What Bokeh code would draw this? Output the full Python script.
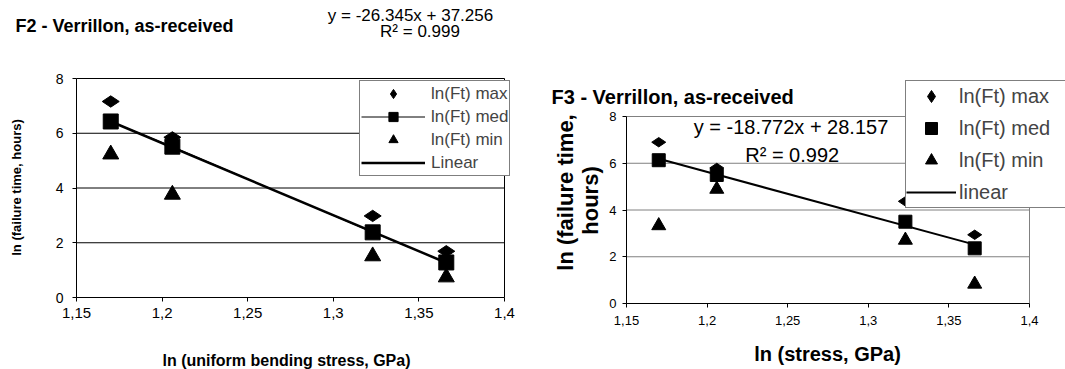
import math
from bokeh.plotting import figure
from bokeh.models import Range1d, FixedTicker, Label, Legend, LegendItem
from bokeh.layouts import row
from bokeh.embed import file_html
from bokeh.resources import INLINE

# ---------------- data ----------------
x_stress = [1.170, 1.206, 1.323, 1.366]
x_ticks = [1.15, 1.2, 1.25, 1.3, 1.35, 1.4]
x_tick_labels = ["1,15", "1,2", "1,25", "1,3", "1,35", "1,4"]
y_ticks = [0, 2, 4, 6, 8]

f2_max = [7.16, 5.85, 2.98, 1.69]
f2_med = [6.43, 5.51, 2.38, 1.28]
f2_min = [5.23, 3.76, 1.51, 0.74]
f2_fit_x = [1.170, 1.366]
f2_fit_y = [6.43, 1.27]
f2_title = "F2 - Verrillon, as-received"
f2_eq = "y = -26.345x + 37.256"
f2_r2 = "R² = 0.999"
f2_xlabel = "ln (uniform bending stress, GPa)"
f2_ylabel = "ln (failure time, hours)"

f3_max = [6.90, 5.80, 4.37, 2.94]
f3_med = [6.13, 5.50, 3.50, 2.36]
f3_min = [3.33, 4.89, 2.71, 0.83]
f3_fit_x = [1.170, 1.366]
f3_fit_y = [6.19, 2.52]
f3_title = "F3 - Verrillon, as-received"
f3_eq = "y = -18.772x + 28.157"
f3_r2 = "R² = 0.992"
f3_xlabel = "ln (stress, GPa)"
f3_ylabel = ["ln (failure time,", "hours)"]

series_names = ["ln(Ft) max", "ln(Ft) med", "ln(Ft) min"]

FONT = "Liberation Sans"


class Chart:
    """A figure whose frame fills the canvas; the axes are fixed inside it so that
    texts and legends placed around the plot area are not clipped."""

    def __init__(self, width, height, px_x0, px_x1, py_y0, py_y8, offset,
                 grid_color, xfs, yfs, xstand, ystand):
        self.off = offset
        xs = (x_ticks[-1] - x_ticks[0]) / (px_x1 - px_x0)
        ys = (y_ticks[-1] - y_ticks[0]) / (py_y0 - py_y8)
        x_start = x_ticks[0] - (px_x0 - offset) * xs
        y_end = y_ticks[0] + py_y0 * ys
        self.xs, self.ys, self.x_start, self.y_end = xs, ys, x_start, y_end
        p = figure(width=width, height=height, output_backend="svg",
                   toolbar_location=None,
                   x_range=Range1d(x_start, x_start + width * xs),
                   y_range=Range1d(y_end - height * ys, y_end),
                   min_border=0, min_border_left=0, min_border_right=0,
                   min_border_top=0, min_border_bottom=0)
        if "frame_align" in p.properties():
            p.frame_align = False
        p.background_fill_color = "white"
        p.border_fill_color = "white"
        p.outline_line_color = None
        p.xgrid.visible = False
        p.ygrid.visible = False

        # plot-area grid lines and right border, built from the tick lists
        p.segment(x0=x_ticks[0], x1=x_ticks[-1], y0=y_ticks[1:], y1=y_ticks[1:],
                  line_color=grid_color, line_width=1)
        p.segment(x0=x_ticks[-1], x1=x_ticks[-1], y0=y_ticks[0], y1=y_ticks[-1],
                  line_color=grid_color, line_width=1)

        p.xaxis.ticker = FixedTicker(ticks=x_ticks)
        p.xaxis.major_label_overrides = {t: s for t, s in zip(x_ticks, x_tick_labels)}
        p.yaxis.ticker = FixedTicker(ticks=y_ticks)
        p.xaxis.fixed_location = y_ticks[0]
        p.yaxis.fixed_location = x_ticks[0]
        p.xaxis.bounds = (x_ticks[0], x_ticks[-1])
        p.yaxis.bounds = (y_ticks[0], y_ticks[-1])
        for ax, fs, st in ((p.xaxis, xfs, xstand), (p.yaxis, yfs, ystand)):
            ax.axis_line_color = "black"
            ax.major_tick_line_color = "black"
            ax.minor_tick_line_color = None
            ax.major_tick_out = 4
            ax.major_tick_in = 0
            ax.major_label_text_font = FONT
            ax.major_label_text_font_size = fs
            ax.major_label_text_color = "black"
            ax.major_label_standoff = st
        self.p = p

    def X(self, px):
        return self.x_start + (px - self.off) * self.xs

    def Y(self, py):
        return self.y_end - py * self.ys

    def label(self, text, px, py, size, bold=False, align="left", angle=0.0):
        self.p.add_layout(Label(x=self.X(px), y=self.Y(py), text=text, text_font=FONT,
                                text_font_size=f"{size}px",
                                text_font_style="bold" if bold else "normal",
                                text_align=align, text_baseline="middle", angle=angle,
                                text_color="black"))


# ---------------- left chart (F2) ----------------
c1 = Chart(540, 369, 76, 504, 297, 78, 0, "black", "15px", "14px", 6, 9)
p1 = c1.p

r1_max = p1.scatter(x_stress, f2_max, marker="diamond", angle=math.pi / 2, size=17,
                    color="black")
r1_medline = p1.line(x_stress, f2_med, line_color="black", line_width=1)
r1_med = p1.scatter(x_stress, f2_med, marker="square", size=15, color="black")
r1_min = p1.scatter(x_stress, f2_min, marker="triangle", size=16, color="black")
r1_fit = p1.line(f2_fit_x, f2_fit_y, line_color="black", line_width=2.5)

leg1 = Legend(items=[
    LegendItem(label=series_names[0], renderers=[r1_max]),
    LegendItem(label=series_names[1], renderers=[r1_medline, r1_med]),
    LegendItem(label=series_names[2], renderers=[r1_min]),
    LegendItem(label="Linear", renderers=[r1_fit]),
], location=(359, 369 - 176), glyph_width=64, glyph_height=23, spacing=0, padding=1,
    margin=0, label_standoff=6, label_text_font=FONT, label_text_font_size="17px",
    label_height=23, border_line_color="black", border_line_width=1,
    background_fill_color="white", background_fill_alpha=1.0)
p1.add_layout(leg1)

c1.label(f2_title, 15, 25.7, 18, bold=True)
c1.label(f2_eq, 410, 15, 17, align="center")
c1.label(f2_r2, 419.5, 31, 17, align="center")
c1.label(f2_ylabel, 16, 187, 13, bold=True, align="center", angle=math.pi / 2)
c1.label(f2_xlabel, 286, 360, 16, bold=True, align="center")

# ---------------- right chart (F3) ----------------
c2 = Chart(525, 369, 626, 1029, 303, 116, 540, "#808080", "13px", "13px", 8, 6)
p2 = c2.p

r2_max = p2.scatter(x_stress, f3_max, marker="diamond", angle=math.pi / 2, size=14,
                    color="black")
r2_med = p2.scatter(x_stress, f3_med, marker="square", size=13, color="black")
r2_min = p2.scatter(x_stress, f3_min, marker="triangle", size=14, color="black")
r2_fit = p2.line(f3_fit_x, f3_fit_y, line_color="black", line_width=2)

leg2 = Legend(items=[
    LegendItem(label=series_names[0], renderers=[r2_max]),
    LegendItem(label=series_names[1], renderers=[r2_med]),
    LegendItem(label=series_names[2], renderers=[r2_min]),
    LegendItem(label="linear", renderers=[r2_fit]),
], location=(905 - 540, 369 - 208), glyph_width=50, glyph_height=30, spacing=2, padding=0,
    margin=0, label_standoff=3, label_text_font=FONT, label_text_font_size="20px",
    label_height=30, label_width=125, border_line_color="black", border_line_width=1,
    background_fill_color="white", background_fill_alpha=1.0)
p2.add_layout(leg2)

c2.label(f3_title, 551, 96, 20, bold=True)
c2.label(f3_eq, 790.5, 126, 20, align="center")
c2.label(f3_r2, 791.7, 154.5, 20, align="center")
c2.label(f3_ylabel[0], 565, 192, 22, bold=True, align="center", angle=math.pi / 2)
c2.label(f3_ylabel[1], 590, 200, 22, bold=True, align="center", angle=math.pi / 2)
c2.label(f3_xlabel, 827, 353, 20, bold=True, align="center")

layout = row(p1, p2)
open("out.html", "w").write(file_html(layout, INLINE))
